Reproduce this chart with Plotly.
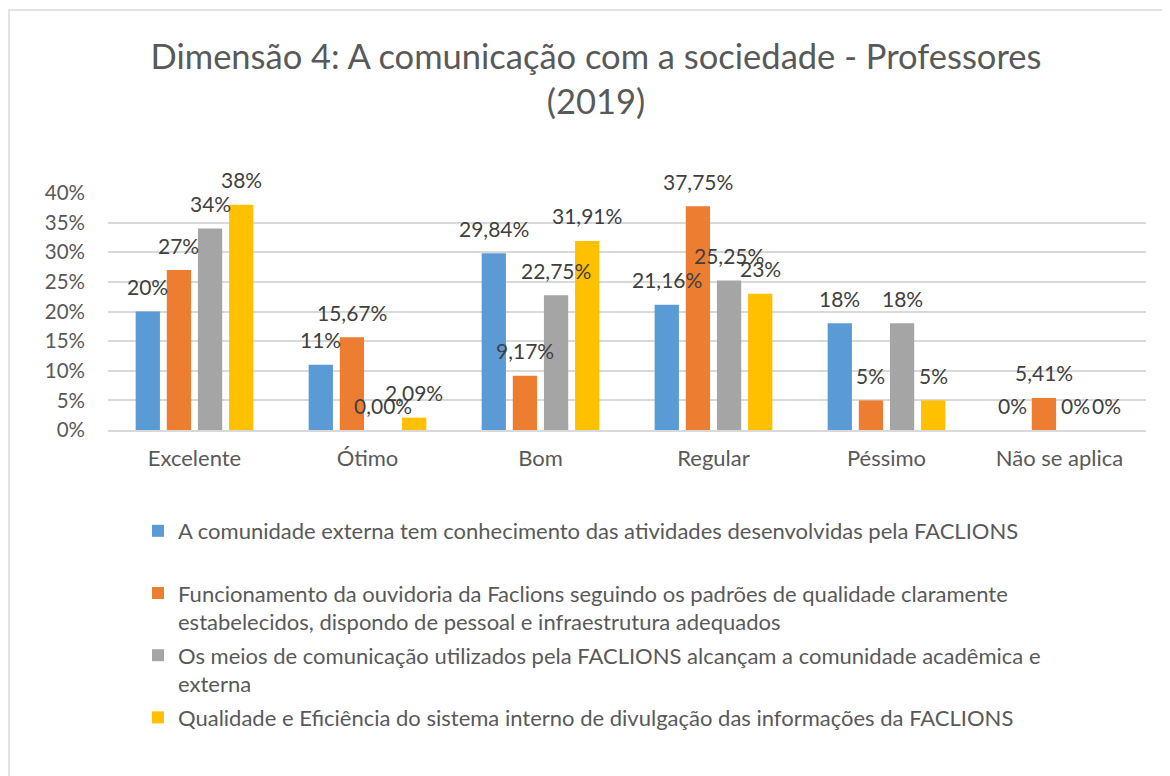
import plotly.graph_objects as go

categories = ["Excelente", "Ótimo", "Bom", "Regular", "Péssimo", "Não se aplica"]

series_names = [
    "A comunidade externa tem conhecimento das atividades desenvolvidas pela FACLIONS<br> ",
    "Funcionamento da ouvidoria da Faclions seguindo os padrões de qualidade claramente<br>estabelecidos, dispondo de pessoal e infraestrutura adequados",
    "Os meios de comunicação utilizados pela FACLIONS alcançam a comunidade acadêmica e<br>externa",
    "Qualidade e Eficiência do sistema interno de divulgação das informações da FACLIONS",
]

s1_values = [0.20, 0.11, 0.2984, 0.2116, 0.18, 0.0]
s2_values = [0.27, 0.1567, 0.0917, 0.3775, 0.05, 0.0541]
s3_values = [0.34, 0.0, 0.2275, 0.2525, 0.18, 0.0]
s4_values = [0.38, 0.0209, 0.3191, 0.23, 0.05, 0.0]

s1_labels = ["20%", "11%", "29,84%", "21,16%", "18%", "0%"]
s2_labels = ["27%", "15,67%", "9,17%", "37,75%", "5%", "5,41%"]
s3_labels = ["34%", "0,00%", "22,75%", "25,25%", "18%", "0%"]
s4_labels = ["38%", "2,09%", "31,91%", "23%", "5%", "0%"]

tick_vals = [0, 0.05, 0.10, 0.15, 0.20, 0.25, 0.30, 0.35, 0.40]
tick_text = ["0%", "5%", "10%", "15%", "20%", "25%", "30%", "35%", "40%"]

colors = ["#5B9BD5", "#ED7D31", "#A5A5A5", "#FFC000"]

values = [s1_values, s2_values, s3_values, s4_values]
labels = [s1_labels, s2_labels, s3_labels, s4_labels]

FONT = "Lato, sans-serif"
OFF = 8  # browser body margin
W, H = 1170, 776
# desired page-pixel plot area: x 108..1146, y 193..430
L, R, T, B = 108 - OFF, W - (1146 - OFF), 193 - OFF, H - (430 - OFF)
bargap = 0.28

fig = go.Figure()
for i in range(4):
    fig.add_trace(go.Bar(
        x=categories, y=values[i], name=series_names[i],
        marker=dict(color=colors[i], line=dict(width=0)),
        legendgroup=f"g{i}",
    ))

slot = (1 - bargap) / 4
annotations = []
for i in range(4):
    for j, cat in enumerate(categories):
        annotations.append(dict(
            x=j + (i - 1.5) * slot, y=values[i][j], xref="x", yref="y",
            text=labels[i][j], showarrow=False, yshift=25,
            font=dict(family=FONT, size=21, color="#404040"),
        ))

pw = W - L - R
ph = H - T - B
def px_x(p):  # page pixel -> paper x
    return (p - OFF - L) / pw
def px_y(p):  # page pixel -> paper y
    return (H - B - (p - OFF)) / ph

fig.update_layout(
    width=W, height=H,
    margin=dict(l=L, r=R, t=T, b=B),
    paper_bgcolor="white", plot_bgcolor="white",
    barmode="group", bargap=bargap, bargroupgap=0.22,
    title=dict(
        text="Dimensão 4: A comunicação com a sociedade - Professores<br>(2019)",
        x=(596 - OFF) / W, xanchor="center", xref="container",
        y=1 - (69 - OFF) / H, yanchor="middle", yref="container",
        font=dict(family=FONT, size=34.5, color="#595959"),
    ),
    font=dict(family=FONT, color="#595959"),
    xaxis=dict(
        type="category", showgrid=False, showline=True, linecolor="#D9D9D9", linewidth=1.5,
        ticks="", tickfont=dict(size=22, color="#595959"), ticklabelstandoff=8,
    ),
    yaxis=dict(
        range=[0, 0.40], tickvals=tick_vals, ticktext=tick_text,
        showgrid=True, gridcolor="#D9D9D9", gridwidth=1.5, zeroline=False,
        ticks="", tickfont=dict(size=20.5, color="#595959"), ticklabelstandoff=22,
    ),
    legend=dict(
        orientation="v", x=px_x(138), xanchor="left", y=px_y(510), yanchor="top",
        font=dict(family=FONT, size=22, color="#595959"),
        valign="top", tracegroupgap=2, traceorder="grouped",
        bgcolor="rgba(0,0,0,0)",
    ),
    annotations=annotations,
    shapes=[dict(
        type="rect", xref="paper", yref="paper",
        x0=px_x(9), x1=px_x(1190), y0=px_y(10), y1=px_y(800),
        line=dict(color="#D9D9D9", width=1.5), fillcolor="rgba(0,0,0,0)", layer="below",
    )],
)

fig.write_html("out.html")
